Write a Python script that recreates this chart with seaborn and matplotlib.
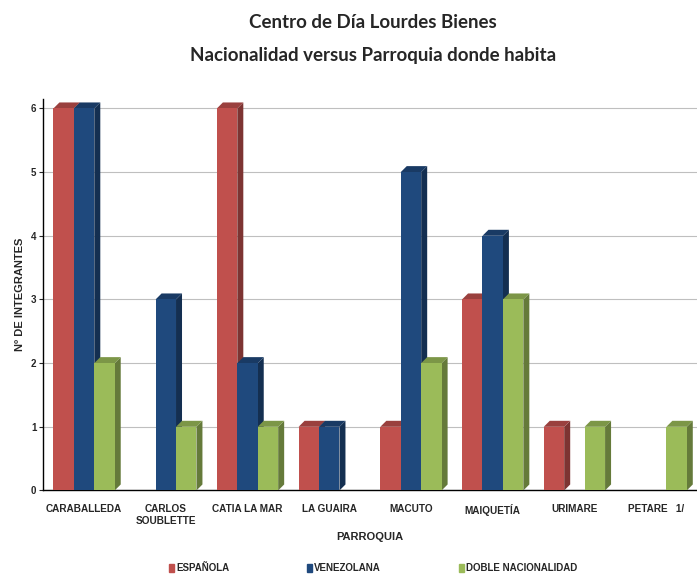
import matplotlib
matplotlib.use("Agg")
import matplotlib.pyplot as plt
import seaborn as sns
import pandas as pd
import numpy as np
from matplotlib.patches import Polygon
import matplotlib.colors as mcolors

parroquias = ["CARABALLEDA", "CARLOS\nSOUBLETTE", "CATIA LA MAR", "LA GUAIRA",
              "MACUTO", "MAIQUETÍA", "URIMARE", "PETARE   1/"]
espanola = [6, 0, 6, 1, 1, 3, 1, 0]
venezolana = [6, 3, 2, 1, 5, 4, 0, 0]
doble = [2, 1, 1, 0, 2, 3, 1, 1]
series_names = ["ESPAÑOLA", "VENEZOLANA", "DOBLE NACIONALIDAD"]
colors = ["#C0504D", "#1F497D", "#9BBB59"]

rows = []
for name, vals in zip(series_names, [espanola, venezolana, doble]):
    for p, v in zip(parroquias, vals):
        rows.append({"Parroquia": p, "Serie": name, "Valor": v})
df = pd.DataFrame(rows)

sns.set_theme(style="white")
plt.rcParams['font.family'] = ['Liberation Sans Narrow', 'Liberation Sans', 'DejaVu Sans']

fig = plt.figure(figsize=(6.97, 5.75), dpi=100)
ax = fig.add_axes([0.062, 0.147, 0.938, 0.681])

sns.barplot(data=df, x="Parroquia", y="Valor", hue="Serie", palette=colors,
            order=parroquias, hue_order=series_names, width=0.75,
            saturation=1, ax=ax, legend=True, zorder=3, linewidth=0,
            edgecolor="none")

ax.set_ylim(0, 6.15)
ax.set_xlim(-0.5, 7.5)
ax.set_yticks(range(0, 7))
ax.yaxis.grid(True, color="#BFBFBF", linewidth=0.8, zorder=0)
ax.set_axisbelow(True)

# pseudo-3D faces derived from the bar geometry
fig.canvas.draw()
dx_pix, dy_pix = 6, 6
inv = ax.transData.inverted()
x0d, y0d = inv.transform((0, 0))
x1d, y1d = inv.transform((dx_pix, dy_pix))
ddx, ddy = x1d - x0d, y1d - y0d
for patch in list(ax.patches):
    if not hasattr(patch, "get_x"):
        continue
    x = patch.get_x(); w = patch.get_width(); h = patch.get_height()
    if w <= 0 or h <= 0:
        continue
    fc = np.array(mcolors.to_rgb(patch.get_facecolor()))
    side = Polygon([(x + w, 0), (x + w + ddx, ddy), (x + w + ddx, h + ddy), (x + w, h)],
                   closed=True, facecolor=fc * 0.65, edgecolor="none", zorder=2.9)
    top = Polygon([(x, h), (x + ddx, h + ddy), (x + w + ddx, h + ddy), (x + w, h)],
                  closed=True, facecolor=fc * 0.8, edgecolor="none", zorder=2.9)
    ax.add_patch(side)
    ax.add_patch(top)

for s in ["top", "right"]:
    ax.spines[s].set_visible(False)
ax.spines["left"].set_color("black")
ax.spines["bottom"].set_color("black")
ax.spines["left"].set_linewidth(1.0)
ax.spines["bottom"].set_linewidth(1.0)

ax.tick_params(axis="y", labelsize=7, left=True, length=3, width=0.8, pad=2)
ax.tick_params(axis="x", labelsize=7.2, bottom=False, pad=4)
for lbl in ax.get_yticklabels() + ax.get_xticklabels():
    lbl.set_fontweight("bold")

ax.set_xlabel("PARROQUIA", fontsize=8, fontweight="bold", labelpad=4)
ax.set_ylabel("Nº DE INTEGRANTES", fontsize=8, fontweight="bold", labelpad=4)

ax.legend_.remove()
handles = [plt.Rectangle((0, 0), 1, 1, color=c) for c in colors]
fig.legend(handles, series_names, loc="center", bbox_to_anchor=(0.535, 0.012),
           ncol=3, frameon=False, handlelength=0.55, handleheight=0.9,
           handletextpad=0.2, columnspacing=8, prop={"weight": "bold", "size": 7})

fig.text(0.535, 0.96, "Centro de Día Lourdes Bienes", ha="center", va="center",
         fontsize=13.5, fontweight="bold", family=["Lato", "DejaVu Sans"])
fig.text(0.535, 0.904, "Nacionalidad versus Parroquia donde habita", ha="center", va="center",
         fontsize=13.5, fontweight="bold", family=["Lato", "DejaVu Sans"])

fig.savefig("out.png", dpi=100)
